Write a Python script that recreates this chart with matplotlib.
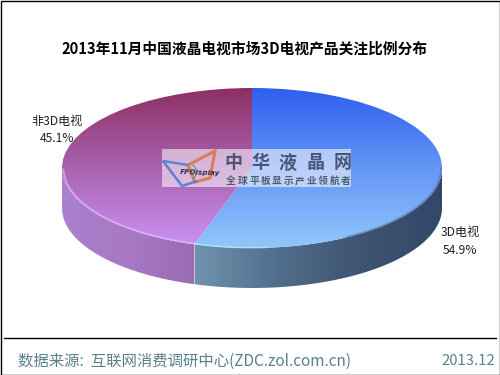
#!/usr/bin/env python
import numpy as np

import matplotlib
matplotlib.use("Agg")

import matplotlib.pyplot as plt
from matplotlib.colors import LinearSegmentedColormap
from matplotlib.patches import Wedge, PathPatch, Polygon, Rectangle, Arc
from matplotlib.path import Path
from matplotlib.transforms import Affine2D

plt.rcParams['font.family'] = ['Noto Sans CJK SC', 'DejaVu Sans']

title = "2013年11月中国液晶电视市场3D电视产品关注比例分布"
source = "数据来源:  互联网消费调研中心(ZDC.zol.com.cn)"
date = "2013.12"
mark_name = "中华液晶网"
mark_slogan = "全球平板显示产业领航者"

names = ["3D电视", "非3D电视"]
shares = [54.9, 45.1]

# ellipse of the pie top, in pixels
cx, cy, rx, ry = 252.0, 168.0, 190.0, 80.0
depth = 40.0

split = -90.0 + 360.0*shares[0]/100.0


def fill_gradient(ax, patch, colors, extent, vertical=True):
    # draw a linear gradient clipped to patch
    cmap = LinearSegmentedColormap.from_list("g", colors)
    grad = np.linspace(0, 1, 256)
    grad = grad[:, None] if vertical else grad[None, :]
    im = ax.imshow(grad, cmap=cmap, extent=extent, aspect='auto',
                   origin='upper', interpolation='bilinear', zorder=patch.get_zorder())
    patch.set_facecolor('none')
    patch.set_edgecolor('none')
    ax.add_patch(patch)
    im.set_clip_path(patch)


def arc(t0, t1, dy=0.0, scale=1.0):
    t = np.radians(np.linspace(t0, t1, 120))
    return np.column_stack((cx + scale*rx*np.cos(t), cy + dy + scale*ry*np.sin(t)))


def side_patch(t0, t1):
    pts = np.vstack((arc(t0, t1), arc(t1, t0, dy=depth)))
    return PathPatch(Path(pts), zorder=2)


fig = plt.figure(figsize=(5.0, 3.75), dpi=100)
ax = fig.add_axes([0, 0, 1, 1])

# side walls
fill_gradient(ax, side_patch(split, 180.0),
              ['#ab80cc', '#a878c4', '#9a6cb4'],
              (62, 195, 290, 160), vertical=False)
fill_gradient(ax, side_patch(0.0, split),
              ['#6f93ad', '#4f6e8c', '#3f5470', '#33476a'],
              (195, 442, 290, 160), vertical=False)

# top faces
ell = Affine2D().scale(rx, ry).translate(cx, cy) + ax.transData
blue = Wedge((0, 0), 1.0, -90.0, split, transform=ell, zorder=3)
purple = Wedge((0, 0), 1.0, split, 270.0, transform=ell, zorder=3)
fill_gradient(ax, blue, ['#2f5ff0', '#6496f6', '#92c6fa'], (62, 442, 248, 88))
fill_gradient(ax, purple, ['#8e2f62', '#aa62b0', '#cb93f5'], (62, 442, 248, 88))

# light rim along the front edge, soft dark one on the right
rim = arc(split, 179.0, scale=0.992)
ax.plot(rim[:, 0], rim[:, 1], color='#e4bcf8', lw=1.2, alpha=0.7, zorder=4)
rim = arc(split - 22.0, split, scale=0.995)
ax.plot(rim[:, 0], rim[:, 1], color='#b4e6ff', lw=1.2, alpha=0.7, zorder=4)
rim = arc(0.0, 60.0, scale=0.995)
ax.plot(rim[:, 0], rim[:, 1], color='#4a6a9c', lw=1.2, alpha=0.5, zorder=4)

# watermark
ax.add_patch(Rectangle((162, 149), 189, 38, facecolor='white', edgecolor='none', alpha=0.55, zorder=5))
ax.add_patch(Polygon([(188, 165), (215, 151), (210, 178), (195, 182)], closed=True, fill=False,
                     edgecolor='#d87c5c', lw=2.2, zorder=6))
ax.add_patch(Polygon([(188, 165), (163, 161), (182, 186), (197, 181)], closed=False, fill=False,
                     edgecolor='#5c82d0', lw=1.8, zorder=6))
ax.add_patch(Arc((190, 172), 12, 16, theta1=-70, theta2=70, edgecolor='#4f9a80', lw=0.8, zorder=6))
ax.text(200, 173, "FPDisplay", fontsize=5.2, fontweight='bold', style='italic', color='#333344',
        family='DejaVu Sans', rotation=-2, ha='center', va='center', zorder=7)
for i, ch in enumerate(mark_name):
    ax.text(233 + 27.5*i, 163, ch, fontsize=13, fontweight='bold', color='#3c4a68', alpha=0.9,
            ha='center', va='center', zorder=7)
for i, ch in enumerate(mark_slogan):
    ax.text(231 + 11.5*i, 181, ch, fontsize=7, fontweight='bold', color='#3c4a58', alpha=0.85,
            ha='center', va='center', zorder=7)

# labels
ax.text(57.5, 130, "%s\n%.1f%%" % (names[1], shares[1]), fontsize=8.7, color='#222222',
        ha='center', va='center', linespacing=1.5, zorder=7)
ax.text(460, 241.5, "%s\n%.1f%%" % (names[0], shares[0]), fontsize=8.7, color='#222222',
        ha='center', va='center', linespacing=1.5, zorder=7)

ax.text(244.5, 48, title, fontsize=10.6, fontweight='bold', color='black', ha='center', va='center')

# footer
ax.plot([4, 496], [338, 338], color='black', lw=1.0)
ax.text(18, 361, source, fontsize=11.1, color='#5a8090', ha='left', va='center')
ax.text(495, 361, date, fontsize=10.7, color='#5a8090', ha='right', va='center')

# border
ax.add_patch(Rectangle((0.5, 0.5), 499, 374, fill=False, edgecolor='black', lw=1.0, zorder=8))

ax.set_xlim(0, 500)
ax.set_ylim(375, 0)
ax.axis('off')

fig.savefig("out.png", dpi=100)
